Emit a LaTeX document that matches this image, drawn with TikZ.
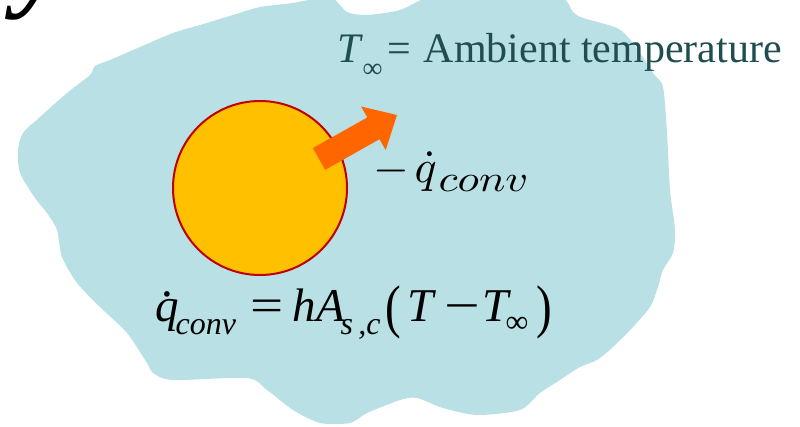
\documentclass[tikz,border=0pt]{standalone}
\usepackage{fontspec}
\setmainfont{Liberation Serif}
\usepackage{graphicx}
\definecolor{blobfill}{RGB}{185,224,228}
\definecolor{ballfill}{RGB}{255,192,0}
\definecolor{balledge}{RGB}{192,0,0}
\definecolor{arrowfill}{RGB}{255,102,0}
\definecolor{tealtext}{RGB}{31,77,80}
\newcommand\putat[2]{\rlap{\kern#1pt #2}}
\tikzset{
  lbl/.style={inner sep=0pt, anchor=base west},
  ballstyle/.style={circle, fill=ballfill, draw=balledge, line width=2pt, minimum size=174pt, inner sep=0pt},
}
\begin{document}
\begin{tikzpicture}[x=1pt,y=-1pt]
\useasboundingbox (0,0) rectangle (800,427);
\begin{scope}
\clip (0,0) rectangle (800,427);
\fill[blobfill] plot[smooth cycle, tension=0.45] coordinates {
 (90,75) (95,66) (110,60) (133,50) (173,33) (200,25) (233,15) (260,7) (293,3) (330,-3)
 (347,12) (367,15) (400,10) (433,-4) (500,-8) (560,-3) (573,12) (583,18) (617,28)
 (633,43) (653,73) (663,87) (667,133) (670,190) (675,230) (673,253) (663,270) (657,290)
 (650,307) (633,327) (613,347) (597,360) (580,367) (560,380) (540,393) (520,410)
 (477,415) (443,408) (417,398) (400,400) (367,413) (350,423) (320,423) (293,410)
 (267,390) (247,378) (173,380) (153,373) (147,363) (127,333) (100,307) (77,283)
 (62,257) (57,230) (47,213) (35,198) (20,173) (18,150) (23,133) (40,117) (67,93) };
\end{scope}
\node[lbl, font=\fontsize{110}{110}\selectfont\bfseries\itshape] (glyph) at (16,-3) {y};
\node[ballstyle] (sphere) at (260,188) {};
\fill[arrowfill] (312.9,148.1) -- (367.3,117.4) -- (361.1,106.5) -- (397,115)
  -- (385.7,150.1) -- (379.5,139.2) -- (325.1,169.9) -- cycle;
\node[lbl, text=tealtext, font=\fontsize{42}{42}\selectfont] (ambient) at (337,63) {%
 \putat{0}{\itshape T}%
 \putat{25}{\raisebox{-15pt}{\fontsize{28}{28}\selectfont ∞}}%
 \putat{50}{=}%
 \putat{86}{Ambient temperature}};
\node[lbl, font=\fontsize{10}{10}\selectfont] (qlabel) at (375,183) {%
 \putat{-2}{\scalebox{4.6}{$-$}}%
 \putat{39}{\scalebox{4.6}{$\dot q$}}%
 \putat{63}{\raisebox{-9pt}{\scalebox{4.4}[3.7]{$conv$}}}};
\node[lbl, font=\fontsize{47}{47}\selectfont] (eq) at (153,322) {%
 \putat{2}{\itshape q}%
 \putat{8}{\raisebox{25pt}{.}}%
 \putat{22}{\raisebox{-13pt}{\fontsize{32}{32}\selectfont\itshape conv}}%
 \putat{97}{\scalebox{1.25}[1]{=}}%
 \putat{139}{\itshape h}%
 \putat{163}{\itshape A}%
 \putat{187}{\raisebox{-13pt}{\fontsize{32}{32}\selectfont\itshape s\,,c}}%
 \putat{232}{\raisebox{-5pt}{\scalebox{1}[1.25]{(}}}%
 \putat{254}{\itshape T}%
 \putat{291}{\scalebox{1.35}[1]{−}}%
 \putat{329}{\itshape T}%
 \putat{352}{\raisebox{-11pt}{\fontsize{32}{32}\selectfont ∞}}%
 \putat{383}{\raisebox{-5pt}{\scalebox{1}[1.25]{)}}}};
\end{tikzpicture}
\end{document}
